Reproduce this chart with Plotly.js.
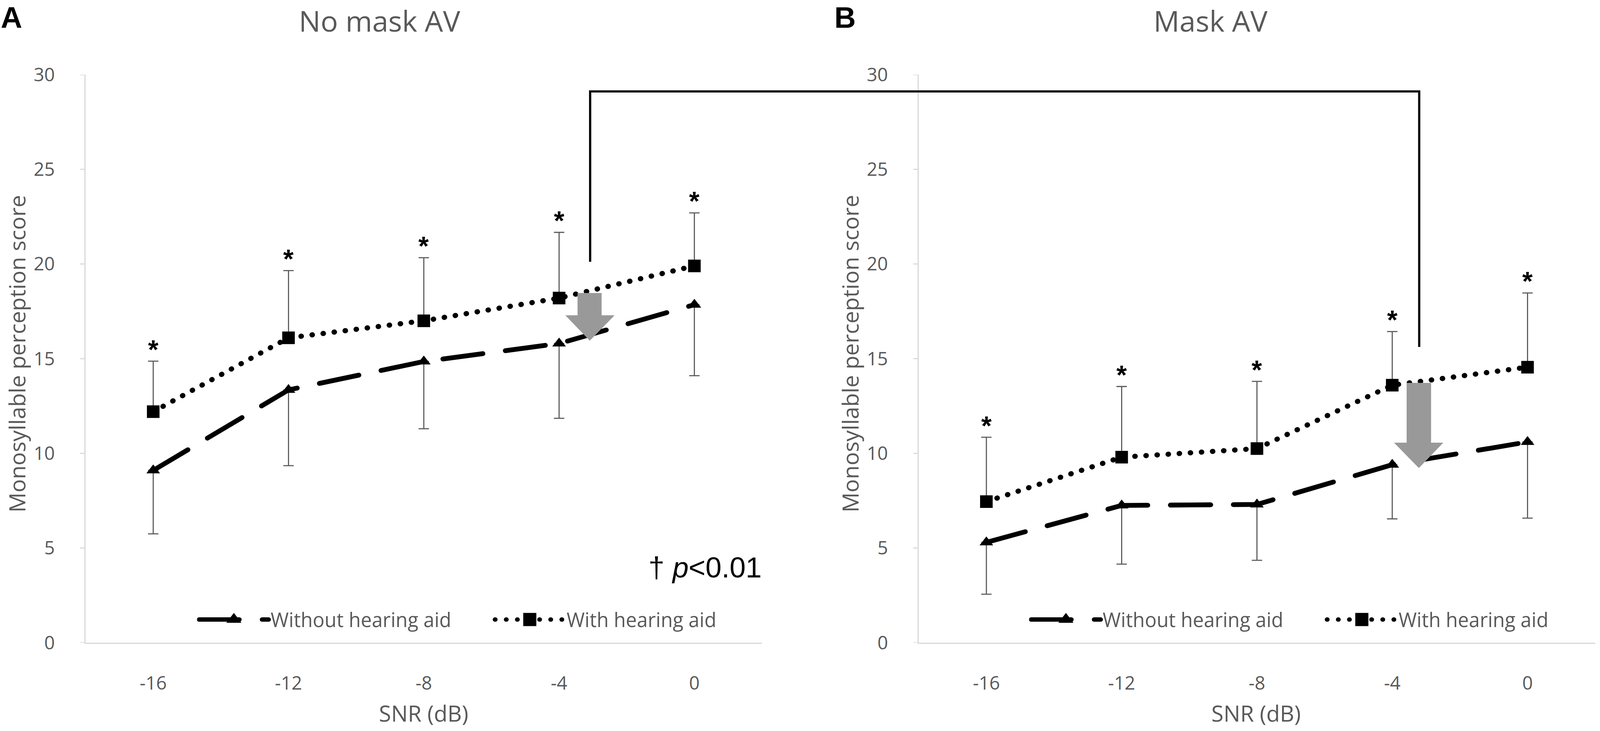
<!DOCTYPE html>
<html><head><meta charset="utf-8">
<script src="https://cdn.plot.ly/plotly-3.0.1.min.js"></script>
<style>
html,body{margin:0;padding:0;background:#fff;overflow:hidden;}
#chart{position:absolute;left:0;top:0;}
.js-line{stroke-linecap:round;}
</style></head><body><div id="chart"></div>
<script>
// ---- data ----
const snr = ['-16','-12','-8','-4','0'];
const noMaskWithout   = [9.1, 13.35, 14.85, 15.8, 17.85];
const noMaskWithoutSD = [3.35, 4.0, 3.55, 3.95, 3.75];
const noMaskWith      = [12.2, 16.1, 17.0, 18.2, 19.9];
const noMaskWithSD    = [2.67, 3.55, 3.33, 3.47, 2.8];
const maskWithout     = [5.3, 7.25, 7.3, 9.4, 10.6];
const maskWithoutSD   = [2.74, 3.1, 2.95, 2.86, 4.02];
const maskWith        = [7.45, 9.8, 10.25, 13.6, 14.55];
const maskWithSD      = [3.4, 3.73, 3.55, 2.83, 3.92];
const seriesNames = ['Without hearing aid', 'With hearing aid'];
const panelTitles = ['No mask AV', 'Mask AV'];
const panelLetters = ['A', 'B'];
const yTicks = [0, 5, 10, 15, 20, 25, 30];
const sigNote = '† <i>p</i>&lt;0.01';

// ---- geometry helpers: design is 4319x1871, adapt to the real viewport ----
const BW = 4319, BH = 1871;
const W = window.innerWidth || BW, H = window.innerHeight || BH;
const k = Math.min(W / BW, H / BH);
const S = v => v * k;                 // scale a pixel size
const PX = p => p / BW;               // design pixel -> paper fraction
const PY = p => 1 - p / BH;
document.getElementById('chart').style.width = W + 'px';
document.getElementById('chart').style.height = H + 'px';

const GRAY = '#595959';
const AXGRAY = '#d9d9d9';
const FONT = 'Open Sans, Liberation Sans, sans-serif';
const ARIAL = 'Liberation Sans, Arial, sans-serif';

function withoutTrace(vals, sd, xa, ya, lg) {
  return {
    type: 'scatter', mode: 'lines+markers', name: seriesNames[0],
    x: snr, y: vals, xaxis: xa, yaxis: ya, legend: lg, legendwidth: S(595),
    line: {color: '#000', width: S(13), dash: S(109) + 'px,' + S(61) + 'px'},
    marker: {symbol: 'triangle-up', size: S(32), color: '#000'},
    error_y: {type: 'data', symmetric: false, array: sd.map(() => 0), arrayminus: sd,
              color: GRAY, thickness: S(3), width: S(14)}
  };
}
function withTrace(vals, sd, xa, ya, lg) {
  return {
    type: 'scatter', mode: 'lines+markers', name: seriesNames[1],
    x: snr, y: vals, xaxis: xa, yaxis: ya, legend: lg,
    line: {color: '#000', width: S(14), dash: S(1) + 'px,' + S(29) + 'px'},
    marker: {symbol: 'square', size: S(34), color: '#000'},
    error_y: {type: 'data', symmetric: false, array: sd, arrayminus: sd.map(() => 0),
              color: GRAY, thickness: S(3), width: S(14)}
  };
}

const data = [
  withoutTrace(noMaskWithout, noMaskWithoutSD, 'x', 'y', 'legend'),
  withTrace(noMaskWith, noMaskWithSD, 'x', 'y', 'legend'),
  withoutTrace(maskWithout, maskWithoutSD, 'x2', 'y2', 'legend2'),
  withTrace(maskWith, maskWithSD, 'x2', 'y2', 'legend2')
];

const tickFont = {family: FONT, size: S(50), color: GRAY};
// transparent long ticks are used only to set the label distance from the axis line
const xCommon = {
  type: 'category', categoryorder: 'array', categoryarray: snr, range: [-0.5, 4.5],
  showline: true, linecolor: AXGRAY, linewidth: S(3),
  ticks: 'outside', ticklen: S(64), tickcolor: 'rgba(0,0,0,0)', showgrid: false,
  zeroline: false, tickfont: tickFont, fixedrange: true
};
const yCommon = {
  range: [0, 30], tickvals: yTicks, showline: true, linecolor: AXGRAY, linewidth: S(3),
  ticks: 'outside', ticklen: S(70), tickcolor: 'rgba(0,0,0,0)', showgrid: false,
  zeroline: false, tickfont: tickFont, fixedrange: true
};
const yDom = [PY(1645), PY(191)];

const annotations = [];
// panel letters
[[0, 0], [2250, 1]].forEach(([px, i]) => annotations.push({xref:'paper', yref:'paper',
  x: PX(px), y: 1, xanchor:'left', yanchor:'top', text: panelLetters[i], showarrow:false,
  font:{family: ARIAL, size: S(80), color:'#000', weight:'bold'}}));
// panel titles
[[1025, 0], [3268, 1]].forEach(([px, i]) => annotations.push({xref:'paper', yref:'paper',
  x: PX(px), y: 1, xanchor:'center', yanchor:'top', text: panelTitles[i], showarrow:false,
  font:{family: FONT, size: S(78), color: GRAY}}));
// axis titles
[45, 2294].forEach(px => annotations.push({xref:'paper', yref:'paper', x: PX(px), y: PY(905),
  xanchor:'center', yanchor:'middle', textangle:-90, text:'Monosyllable perception score',
  showarrow:false, font:{family: FONT, size: S(60), color: GRAY}}));
[1144, 3391].forEach(px => annotations.push({xref:'paper', yref:'paper', x: PX(px), y: PY(1825),
  xanchor:'center', yanchor:'middle', text:'SNR (dB)', showarrow:false,
  font:{family: FONT, size: S(60), color: GRAY}}));
// significance note
annotations.push({xref:'paper', yref:'paper', x: PX(2058), y: PY(1452), xanchor:'right', yanchor:'middle',
  text: sigNote, showarrow:false, font:{family: ARIAL, size: S(78), color:'#000'}});
// asterisks above the upper error bars of "With hearing aid" (x given as category index)
function stars(vals, sd, xa, ya) {
  vals.forEach((v, i) => annotations.push({xref: xa, yref: ya, x: i, y: v + sd[i],
    xanchor:'center', yanchor:'middle', yshift: S(32), text:'*', showarrow:false,
    font:{family: ARIAL, size: S(72), color:'#000', weight:'bold'}}));
}
stars(noMaskWith, noMaskWithSD, 'x', 'y');
stars(maskWith, maskWithSD, 'x2', 'y2');

function arrowPath(cx, sl, sr, hl, hr, top, hs, tip) {
  return `M${PX(sl)},${PY(top)} L${PX(sr)},${PY(top)} L${PX(sr)},${PY(hs)} L${PX(hr)},${PY(hs)} ` +
         `L${PX(cx)},${PY(tip)} L${PX(hl)},${PY(hs)} L${PX(sl)},${PY(hs)} Z`;
}
const shapes = [
  {type:'path', xref:'paper', yref:'paper', layer:'above',
   path: arrowPath(1592, 1559, 1624, 1526, 1659, 750, 807, 872),
   fillcolor:'#999999', line:{width:0}},
  {type:'path', xref:'paper', yref:'paper', layer:'above',
   path: arrowPath(3830, 3797, 3863, 3763, 3896, 980, 1133, 1198),
   fillcolor:'#999999', line:{width:0}},
  {type:'path', xref:'paper', yref:'paper', layer:'above',
   path: `M${PX(1593)},${PY(670)} L${PX(1593)},${PY(234)} L${PX(3831)},${PY(234)} L${PX(3831)},${PY(888)}`,
   line:{color:'#000', width: S(6)}}
];
// short visible y tick marks (the axis ticks themselves are transparent spacers)
[[231, 'y'], [2480, 'y2']].forEach(([axPx, yref]) => yTicks.forEach(v => shapes.push({
  type:'line', xref:'paper', yref: yref, x0: PX(axPx - 15), x1: PX(axPx), y0: v, y1: v,
  layer:'below', line:{color: AXGRAY, width: S(3)}})));

const legendCommon = {orientation:'h', xanchor:'left', yanchor:'middle', y: PY(1586),
  font:{family: FONT, size: S(53), color: GRAY}, itemwidth: Math.max(30, S(188)),
  bgcolor:'rgba(0,0,0,0)', borderwidth:0, traceorder:'normal'};

const layout = {
  width: W, height: H, margin: {l:0, r:0, t:0, b:0, autoexpand:false},
  paper_bgcolor:'#fff', plot_bgcolor:'#fff', showlegend: true,
  xaxis: Object.assign({}, xCommon, {domain:[PX(231), PX(2057)], anchor:'y'}),
  yaxis: Object.assign({}, yCommon, {domain: yDom, anchor:'x'}),
  xaxis2: Object.assign({}, xCommon, {domain:[PX(2480), PX(4306)], anchor:'y2'}),
  yaxis2: Object.assign({}, yCommon, {domain: yDom, anchor:'x2'}),
  legend: Object.assign({}, legendCommon, {x: PX(532)}),
  legend2: Object.assign({}, legendCommon, {x: PX(2778)}),
  annotations, shapes
};

Plotly.newPlot('chart', data, layout, {staticPlot: true, displayModeBar: false}).then(() => {
  // Plotly caps legend marker size and line width; restore them to the plot's look
  document.querySelectorAll('.legendpoints path.scatterpts').forEach(p => {
    const t = p.getAttribute('transform') || '';
    p.setAttribute('transform', t + ' scale(2.1)');
  });
  document.querySelectorAll('.legendlines path.js-line').forEach(p => {
    p.style.strokeWidth = S(12) + 'px';
  });
});
</script></body></html>
